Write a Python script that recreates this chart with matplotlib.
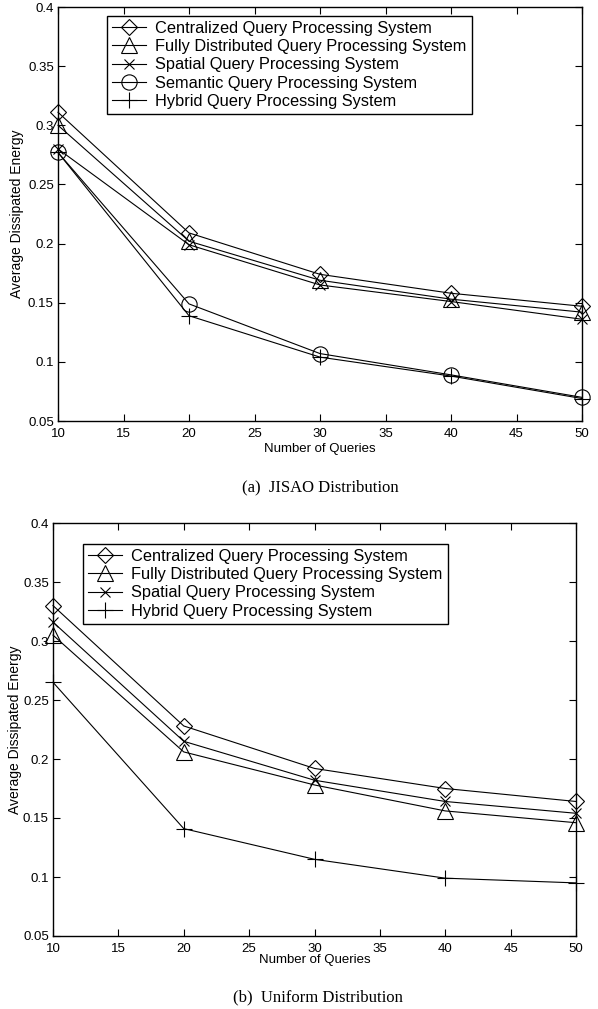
import matplotlib.pyplot as plt
from matplotlib.ticker import FuncFormatter, MultipleLocator

# data
queries = [10, 20, 30, 40, 50]

jisao_centralized = [0.311, 0.209, 0.174, 0.158, 0.147]
jisao_fully = [0.300, 0.202, 0.169, 0.153, 0.142]
jisao_spatial = [0.280, 0.199, 0.165, 0.151, 0.136]
jisao_semantic = [0.277, 0.149, 0.107, 0.089, 0.070]
jisao_hybrid = [0.277, 0.139, 0.104, 0.088, 0.069]

uni_centralized = [0.330, 0.228, 0.192, 0.175, 0.164]
uni_fully = [0.305, 0.206, 0.178, 0.156, 0.146]
uni_spatial = [0.316, 0.215, 0.182, 0.164, 0.154]
uni_hybrid = [0.265, 0.141, 0.115, 0.099, 0.095]

labels = {
    'c': 'Centralized Query Processing System',
    'f': 'Fully Distributed Query Processing System',
    's': 'Spatial Query Processing System',
    'm': 'Semantic Query Processing System',
    'h': 'Hybrid Query Processing System',
}

plt.rcParams['font.family'] = ['Liberation Sans', 'DejaVu Sans']

W, H = 598, 1009
fig = plt.figure(figsize=(W / 100, H / 100), dpi=100)

marker_style = {
    'c': dict(marker='D', markersize=8),
    'f': dict(marker='^', markersize=11.5),
    's': dict(marker='x', markersize=7.5),
    'm': dict(marker='o', markersize=11),
    'h': dict(marker='+', markersize=11.5),
}


def fmt(v, _):
    return ('%.2f' % v).rstrip('0').rstrip('.')


def setup_axes(ax):
    ax.set_xlim(10, 50)
    ax.set_ylim(0.05, 0.4)
    ax.xaxis.set_major_locator(MultipleLocator(5))
    ax.yaxis.set_major_locator(MultipleLocator(0.05))
    ax.yaxis.set_major_formatter(FuncFormatter(fmt))
    ax.tick_params(direction='in', top=True, right=True, length=5,
                   width=0.8, labelsize=9.5, pad=3)
    ax.tick_params(axis='x', pad=5)
    for sp in ax.spines.values():
        sp.set_linewidth(1.0)


def draw(ax, series):
    for key, vals in series:
        ax.plot(queries, vals, color='black', lw=0.8,
                markerfacecolor='none', markeredgecolor='black',
                markeredgewidth=0.8, label=labels[key],
                clip_on=False, **marker_style[key])


def px_axes(left, top, right, bottom):
    return fig.add_axes([left / W, 1 - bottom / H,
                         (right - left) / W, (bottom - top) / H])


def add_legend(ax, left, top):
    leg = ax.legend(loc='upper left', bbox_to_anchor=(left / W, 1 - top / H),
                    bbox_transform=fig.transFigure, fontsize=11.8,
                    frameon=True, fancybox=False, edgecolor='black',
                    framealpha=1, handlelength=2.1, handletextpad=0.55,
                    labelspacing=0.2, borderpad=0.3, borderaxespad=0)
    leg.get_frame().set_linewidth(1.0)
    return leg


# (a) JISAO
ax1 = px_axes(58, 7, 582, 421)
setup_axes(ax1)
draw(ax1, [('c', jisao_centralized), ('f', jisao_fully),
           ('s', jisao_spatial), ('m', jisao_semantic), ('h', jisao_hybrid)])
ax1.set_xlabel('Number of Queries', fontsize=9.5, labelpad=2)
ax1.set_ylabel('Average Dissipated Energy', fontsize=10, labelpad=3)
add_legend(ax1, 107, 16)
fig.text(320 / W, 1 - 487 / H, '(a)  JISAO Distribution',
         family='Liberation Serif', fontsize=12, ha='center', va='center')

# (b) Uniform
ax2 = px_axes(53, 523, 576, 936)
setup_axes(ax2)
draw(ax2, [('c', uni_centralized), ('f', uni_fully),
           ('s', uni_spatial), ('h', uni_hybrid)])
ax2.set_xlabel('Number of Queries', fontsize=9.5, labelpad=-1)
ax2.set_ylabel('Average Dissipated Energy', fontsize=10, labelpad=1)
add_legend(ax2, 83, 544)
fig.text(318 / W, 1 - 997 / H, '(b)  Uniform Distribution',
         family='Liberation Serif', fontsize=12, ha='center', va='center')

fig.savefig('out.png', dpi=100)
